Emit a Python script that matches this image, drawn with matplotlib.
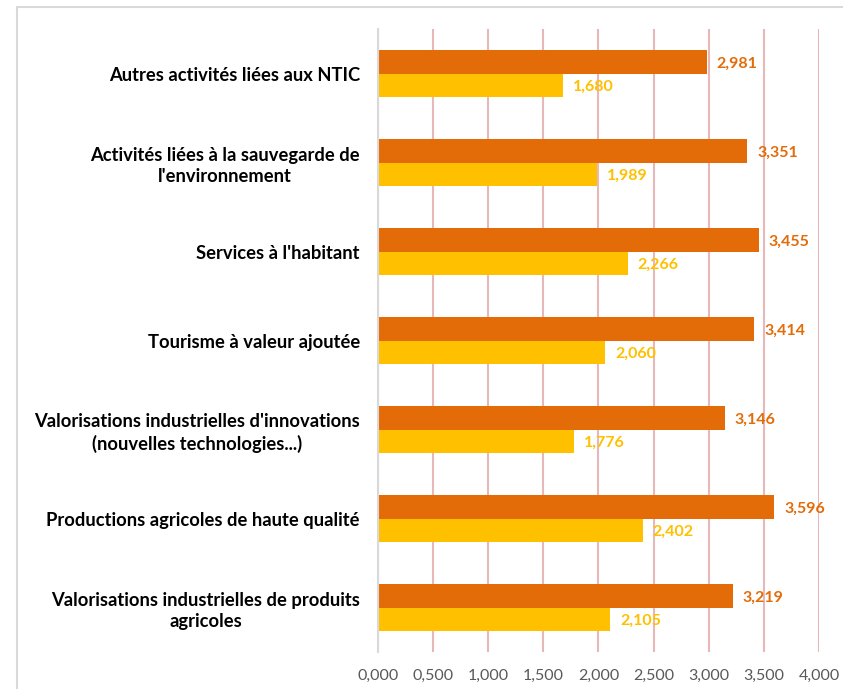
import matplotlib.pyplot as plt
from matplotlib.patches import Rectangle
import numpy as np

categories = [
    "Autres activités liées aux NTIC",
    "Activités liées à la sauvegarde de\nl'environnement",
    "Services à l'habitant",
    "Tourisme à valeur ajoutée",
    "Valorisations industrielles d'innovations\n(nouvelles technologies...)",
    "Productions agricoles de haute qualité",
    "Valorisations industrielles de produits\nagricoles",
]
serie_orange = [2.981, 3.351, 3.455, 3.414, 3.146, 3.596, 3.219]
serie_jaune = [1.680, 1.989, 2.266, 2.060, 1.776, 2.402, 2.105]
xticks = [0, 0.5, 1.0, 1.5, 2.0, 2.5, 3.0, 3.5, 4.0]

orange = "#E36C09"
jaune = "#FFC000"

plt.rcParams['font.family'] = ['Lato', 'DejaVu Sans']

fig = plt.figure(figsize=(8.43, 6.89), dpi=100)
ax = fig.add_axes([0.4484, 0.0537, 0.5231, 0.9042])

# cadre gris autour du graphique
fig.patches.append(Rectangle((17 / 843, -0.1), 1.2, 1 - 7 / 689 + 0.1,
                             transform=fig.transFigure, fill=False,
                             edgecolor="#D9D9D9", linewidth=1.5))

y = np.arange(len(categories))
h = 0.262
ax.barh(y - h / 2, serie_orange, height=h, color=orange, zorder=3)
ax.barh(y + h / 2, serie_jaune, height=h, color=jaune, zorder=3)

for i in range(len(categories)):
    ax.text(serie_orange[i] + 0.09, y[i] - h / 2 + 0.02, f"{serie_orange[i]:.3f}".replace(".", ","),
            color=orange, fontweight="bold", fontsize=11.5, va="center", ha="left", zorder=4)
    ax.text(serie_jaune[i] + 0.09, y[i] + h / 2 + 0.02, f"{serie_jaune[i]:.3f}".replace(".", ","),
            color=jaune, fontweight="bold", fontsize=11.5, va="center", ha="left", zorder=4)

ax.set_ylim(len(categories) - 0.5, -0.5)
ax.set_xlim(0, 4.0)
ax.set_yticks(y)
ax.set_yticklabels(categories, fontweight="bold", fontsize=13.2, color="#000000",
                   multialignment="center", linespacing=1.3)
ax.tick_params(axis="y", length=0, pad=13)
ax.set_xticks(xticks)
ax.set_xticklabels([f"{v:.3f}".replace(".", ",") for v in xticks], fontsize=11.5, color="#595959")
ax.tick_params(axis="x", length=0, pad=12)

ax.grid(axis="x", color="#E6B9B8", linewidth=1.5, zorder=0)
for s in ["top", "right", "bottom"]:
    ax.spines[s].set_visible(False)
ax.spines["left"].set_color("#D9D9D9")
ax.spines["left"].set_linewidth(1.5)
ax.spines["left"].set_zorder(5)

fig.savefig("out.png", dpi=100)
